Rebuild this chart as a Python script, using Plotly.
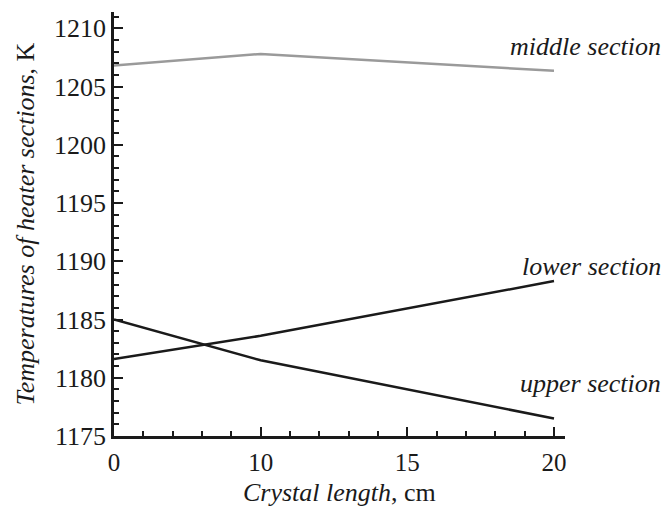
import numpy as np
import plotly.graph_objects as go

# Axis tick labels (the printed axis is non-uniform: labels equally spaced)
x_tick_labels = [0, 10, 15, 20]
x_tick_pos = [0, 1, 2, 3]
y_tick_labels = [1175, 1180, 1185, 1190, 1195, 1200, 1205, 1210]

crystal_length = [0, 10, 20]
middle_section = [1206.8, 1207.8, 1206.35]
lower_section = [1181.6, 1183.6, 1188.3]
upper_section = [1185.0, 1181.5, 1176.5]

def to_axis(v):
    return np.interp(v, x_tick_labels, x_tick_pos)

xs = to_axis(crystal_length)
FONT = "Liberation Serif, Times New Roman, serif"
TXT = "#1a1a1a"

fig = go.Figure()
fig.add_trace(go.Scatter(x=xs, y=middle_section, mode="lines",
                         line=dict(color="#9a9a9a", width=2.5), showlegend=False))
fig.add_trace(go.Scatter(x=xs, y=lower_section, mode="lines",
                         line=dict(color=TXT, width=2.5), showlegend=False))
fig.add_trace(go.Scatter(x=xs, y=upper_section, mode="lines",
                         line=dict(color=TXT, width=2.5), showlegend=False))

PW, PH = 565 - 114, 436 - 12

labels = [("middle section", 47), ("lower section", 266), ("upper section", 383)]
for text, ypix in labels:
    fig.add_annotation(text=f"<i>{text}</i>", xref="paper", yref="paper",
                       x=(663 - 114) / PW, y=(436 - ypix) / PH,
                       xanchor="right", yanchor="middle", showarrow=False,
                       font=dict(family=FONT, size=26, color=TXT))

# x-axis title
fig.add_annotation(text="<i>Crystal length</i>, cm", xref="paper", yref="paper",
                   x=0.5, y=(436 - 492) / PH, xanchor="center", yanchor="middle",
                   showarrow=False, font=dict(family=FONT, size=26, color=TXT))

fig.update_layout(
    width=669, height=508,
    margin=dict(l=106, r=112, t=4, b=80, autoexpand=False),
    paper_bgcolor="white", plot_bgcolor="white",
    font=dict(family=FONT, size=26, color=TXT),
    xaxis=dict(range=[0, 3.075], tickvals=x_tick_pos,
               ticktext=[str(v) for v in x_tick_labels],
               showgrid=False, zeroline=False, showline=True, automargin=False,
               linecolor=TXT, linewidth=2.5,
               ticks="inside", ticklen=9, tickwidth=2, tickcolor=TXT,
               ticklabelstandoff=2,
               minor=dict(dtick=0.2, ticks="inside", ticklen=5, tickwidth=1.5,
                          tickcolor=TXT, showgrid=False),
               tickfont=dict(family=FONT, size=25, color=TXT)),
    yaxis=dict(range=[1175, 1211.4], tickvals=y_tick_labels,
               showgrid=False, zeroline=False, showline=True, automargin=False,
               linecolor=TXT, linewidth=2.5,
               ticks="inside", ticklen=9, tickwidth=2, tickcolor=TXT,
               minor=dict(dtick=1, ticks="inside", ticklen=5, tickwidth=1.5,
                          tickcolor=TXT, showgrid=False),
               tickfont=dict(family=FONT, size=26, color=TXT),
               title=dict(text="<i>Temperatures of heater sections</i>, K",
                          font=dict(family=FONT, size=26, color=TXT), standoff=12)),
)

fig.write_html("out.html")
